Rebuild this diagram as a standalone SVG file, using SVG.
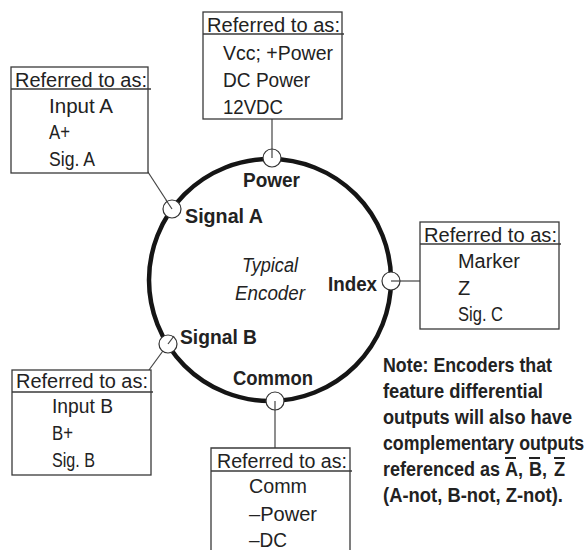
<svg xmlns="http://www.w3.org/2000/svg" width="588" height="550" viewBox="0 0 588 550">
<style>
.box{fill:#fff;stroke:#3a3a3a;stroke-width:1.3}
.ul{stroke:#3a3a3a;stroke-width:1.3}
.t{font-family:"Liberation Sans",Arial,sans-serif;font-size:20px;fill:#222}
.b{font-family:"Liberation Sans",Arial,sans-serif;font-size:21px;font-weight:bold;fill:#222}
.n{font-family:"Liberation Sans",Arial,sans-serif;font-size:21px;font-weight:bold;fill:#222}
.i{font-family:"Liberation Sans",Arial,sans-serif;font-size:20px;font-style:italic;fill:#222}
.lead{stroke:#444;stroke-width:1.2;fill:none}
.port{fill:#fff;stroke:#333;stroke-width:1.2}
.bar{stroke:#222;stroke-width:2}
</style>
<rect width="588" height="550" fill="#fff"/>
<g id="encoder">
<circle cx="270" cy="280" r="121" fill="none" stroke="#151515" stroke-width="4.5"/>
<text class="i" x="270" y="272" text-anchor="middle" textLength="56" lengthAdjust="spacingAndGlyphs">Typical</text>
<text class="i" x="270" y="300" text-anchor="middle" textLength="70" lengthAdjust="spacingAndGlyphs">Encoder</text>
</g>
<g id="connectors">
<line class="lead" x1="272" y1="119" x2="272" y2="158"/>
<line class="lead" x1="146" y1="169" x2="172" y2="209"/>
<line class="lead" x1="149" y1="370" x2="168" y2="344"/>
<line class="lead" x1="391" y1="281" x2="420" y2="281"/>
<line class="lead" x1="275" y1="401" x2="275" y2="448"/>
</g>
<g id="ports">
<circle class="port" cx="272" cy="158" r="9"/>
<circle class="port" cx="172" cy="209" r="9"/>
<circle class="port" cx="168" cy="344" r="9"/>
<circle class="port" cx="391" cy="281" r="9"/>
<circle class="port" cx="275" cy="401" r="9"/>
<line class="lead" x1="272" y1="149" x2="272" y2="158"/>
<line class="lead" x1="166" y1="200" x2="172" y2="209"/>
<line class="lead" x1="168" y1="344" x2="174" y2="336"/>
<line class="lead" x1="391" y1="281" x2="400" y2="281"/>
<line class="lead" x1="275" y1="401" x2="275" y2="410"/>
</g>
<g id="labels">
<text class="b" x="243" y="187" textLength="57" lengthAdjust="spacingAndGlyphs">Power</text>
<text class="b" x="185" y="223" textLength="78" lengthAdjust="spacingAndGlyphs">Signal A</text>
<text class="b" x="180" y="344" textLength="77" lengthAdjust="spacingAndGlyphs">Signal B</text>
<text class="b" x="328" y="291" textLength="49" lengthAdjust="spacingAndGlyphs">Index</text>
<text class="b" x="233" y="385" textLength="80" lengthAdjust="spacingAndGlyphs">Common</text>
</g>
<g id="box-power">
<rect class="box" x="203" y="12" width="139" height="107"/>
<line class="ul" x1="203" y1="34" x2="344" y2="34"/>
<text class="t" x="207" y="32" textLength="133" lengthAdjust="spacingAndGlyphs">Referred to as:</text>
<text class="t" x="223" y="60" textLength="110" lengthAdjust="spacingAndGlyphs">Vcc; +Power</text>
<text class="t" x="223" y="87" textLength="87" lengthAdjust="spacingAndGlyphs">DC Power</text>
<text class="t" x="223" y="114" textLength="60" lengthAdjust="spacingAndGlyphs">12VDC</text>
</g>
<g id="box-signal-a">
<rect class="box" x="11" y="67" width="137" height="106"/>
<line class="ul" x1="11" y1="89" x2="151" y2="89"/>
<text class="t" x="15" y="87" textLength="132" lengthAdjust="spacingAndGlyphs">Referred to as:</text>
<text class="t" x="49" y="113" textLength="64" lengthAdjust="spacingAndGlyphs">Input A</text>
<text class="t" x="49" y="139" textLength="21" lengthAdjust="spacingAndGlyphs">A+</text>
<text class="t" x="49" y="166" textLength="46" lengthAdjust="spacingAndGlyphs">Sig. A</text>
</g>
<g id="box-signal-b">
<rect class="box" x="12" y="370" width="139" height="105"/>
<line class="ul" x1="12" y1="392" x2="153" y2="392"/>
<text class="t" x="16" y="388" textLength="132" lengthAdjust="spacingAndGlyphs">Referred to as:</text>
<text class="t" x="52" y="413" textLength="61" lengthAdjust="spacingAndGlyphs">Input B</text>
<text class="t" x="52" y="440" textLength="21" lengthAdjust="spacingAndGlyphs">B+</text>
<text class="t" x="52" y="467" textLength="43" lengthAdjust="spacingAndGlyphs">Sig. B</text>
</g>
<g id="box-index">
<rect class="box" x="420" y="222" width="139" height="107"/>
<line class="ul" x1="420" y1="244" x2="561" y2="244"/>
<text class="t" x="424" y="242" textLength="133" lengthAdjust="spacingAndGlyphs">Referred to as:</text>
<text class="t" x="458" y="268" textLength="62" lengthAdjust="spacingAndGlyphs">Marker</text>
<text class="t" x="458" y="295">Z</text>
<text class="t" x="458" y="321" textLength="45" lengthAdjust="spacingAndGlyphs">Sig. C</text>
</g>
<g id="box-common">
<path class="box" d="M211,551 V448 H350 V551"/>
<line class="ul" x1="211" y1="471" x2="352" y2="471"/>
<text class="t" x="217" y="468" textLength="130" lengthAdjust="spacingAndGlyphs">Referred to as:</text>
<text class="t" x="249" y="493" textLength="58" lengthAdjust="spacingAndGlyphs">Comm</text>
<text class="t" x="249" y="521" textLength="68" lengthAdjust="spacingAndGlyphs">–Power</text>
<text class="t" x="249" y="547" textLength="38" lengthAdjust="spacingAndGlyphs">–DC</text>
</g>
<g id="note">
<g transform="translate(383,0) scale(0.86,1)">
<text class="n" x="0" y="372" textLength="196.5" lengthAdjust="spacingAndGlyphs">Note: Encoders that</text>
<text class="n" x="0" y="398" textLength="186" lengthAdjust="spacingAndGlyphs">feature differential</text>
<text class="n" x="0" y="424" textLength="219.8" lengthAdjust="spacingAndGlyphs">outputs will also have</text>
<text class="n" x="0" y="450" textLength="234" lengthAdjust="spacingAndGlyphs">complementary outputs</text>
<text class="n" y="476"><tspan x="0" textLength="136" lengthAdjust="spacingAndGlyphs">referenced as</tspan><tspan x="141.9">A,</tspan><tspan x="169.8">B,</tspan><tspan x="198.8">Z</tspan></text>
<text class="n" x="0" y="502" textLength="209.3" lengthAdjust="spacingAndGlyphs">(A-not, B-not, Z-not).</text>
</g>
<line class="bar" x1="505" y1="458" x2="516" y2="458"/>
<line class="bar" x1="529" y1="458" x2="540" y2="458"/>
<line class="bar" x1="554" y1="458" x2="565" y2="458"/>
</g>
</svg>
